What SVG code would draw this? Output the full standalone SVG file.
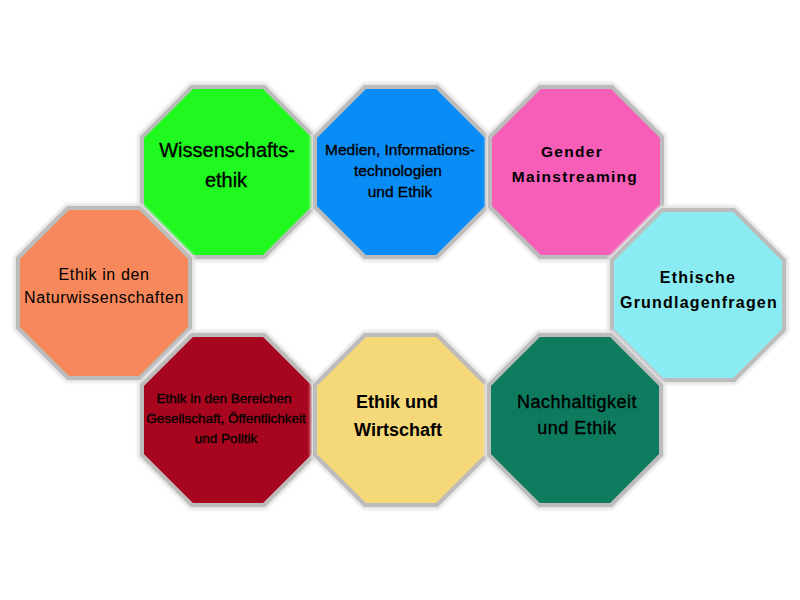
<svg xmlns="http://www.w3.org/2000/svg" xmlns:xlink="http://www.w3.org/1999/xlink" width="800" height="600" viewBox="0 0 800 600">
<style>
.halo{fill:none;stroke:#e2e2e2;stroke-width:9;stroke-linejoin:miter}
.edge{stroke:#bcbcbc;stroke-width:4;stroke-linejoin:miter}
text{font-family:"Liberation Sans",Arial,sans-serif;fill:#000;text-anchor:middle}
.heavy{stroke:#000;stroke-width:0.35}
</style>
<defs>
<polygon id="oct" points="50,0 122,0 172,50 172,120 122,170 50,170 0,120 0,50"/>
<filter id="soft" x="-10%" y="-10%" width="120%" height="120%"><feGaussianBlur stdDeviation="1.5"/></filter>
</defs>
<rect width="800" height="600" fill="#fff"/>
<g id="connectors"/>
<g id="n-wissenschaft" transform="translate(142,87)">
<use xlink:href="#oct" class="halo" filter="url(#soft)"/>
<use xlink:href="#oct" class="edge" fill="#1ff91f"/>
<text class="heavy" x="85" y="70" font-size="20">Wissenschafts-</text>
<text class="heavy" x="84" y="100" font-size="20">ethik</text>
</g>
<g id="n-medien" transform="translate(315,87)">
<use xlink:href="#oct" class="halo" filter="url(#soft)"/>
<use xlink:href="#oct" class="edge" fill="#0a8cf6"/>
<text class="heavy" x="85" y="68" font-size="15.5">Medien, Informations-</text>
<text class="heavy" x="83" y="89" font-size="15.5">technologien</text>
<text class="heavy" x="85" y="110" font-size="15.5">und Ethik</text>
</g>
<g id="n-gender" transform="translate(490,87)">
<use xlink:href="#oct" class="halo" filter="url(#soft)"/>
<use xlink:href="#oct" class="edge" fill="#f65eb8"/>
<text x="82" y="70" font-size="15.5" font-weight="bold" letter-spacing="1.3">Gender</text>
<text x="85" y="95" font-size="15.5" font-weight="bold" letter-spacing="1.3">Mainstreaming</text>
</g>
<g id="n-grundlagen" transform="translate(612,210)">
<use xlink:href="#oct" class="halo" filter="url(#soft)"/>
<use xlink:href="#oct" class="edge" fill="#8aebf2"/>
<text x="86" y="73" font-size="16" font-weight="bold" letter-spacing="1.2">Ethische</text>
<text x="87" y="98" font-size="16" font-weight="bold" letter-spacing="1.2">Grundlagenfragen</text>
</g>
<g id="n-natur" transform="translate(18,208)">
<use xlink:href="#oct" class="halo" filter="url(#soft)"/>
<use xlink:href="#oct" class="edge" fill="#f6885b"/>
<text x="86" y="72" font-size="16" letter-spacing="0.6">Ethik in den</text>
<text x="86" y="95" font-size="16" letter-spacing="0.6">Naturwissenschaften</text>
</g>
<g id="n-gesellschaft" transform="translate(142,335)">
<use xlink:href="#oct" class="halo" filter="url(#soft)"/>
<use xlink:href="#oct" class="edge" fill="#a8061f"/>
<text class="heavy" x="82" y="68" font-size="13.5">Ethik in den Bereichen</text>
<text class="heavy" x="84" y="88" font-size="13.5">Gesellschaft, Öffentlichkeit</text>
<text class="heavy" x="84" y="108" font-size="13.5">und Politik</text>
</g>
<g id="n-wirtschaft" transform="translate(315,335)">
<use xlink:href="#oct" class="halo" filter="url(#soft)"/>
<use xlink:href="#oct" class="edge" fill="#f5d978"/>
<text x="82" y="73" font-size="18" font-weight="bold">Ethik und</text>
<text x="83" y="101" font-size="18" font-weight="bold">Wirtschaft</text>
</g>
<g id="n-nachhaltigkeit" transform="translate(489,335)">
<use xlink:href="#oct" class="halo" filter="url(#soft)"/>
<use xlink:href="#oct" class="edge" fill="#0e7a5e"/>
<text class="heavy" x="88" y="73" font-size="18" letter-spacing="0.5">Nachhaltigkeit</text>
<text class="heavy" x="88" y="99" font-size="18" letter-spacing="0.5">und Ethik</text>
</g>
</svg>
